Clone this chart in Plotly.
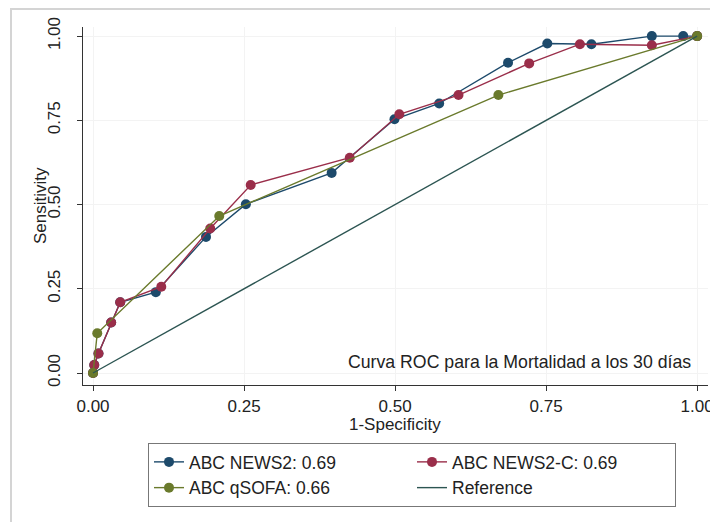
import plotly.graph_objects as go

# ---- data ----
news2_x = [0.0, 0.002, 0.009, 0.030, 0.045, 0.104, 0.187, 0.253, 0.395, 0.499, 0.573, 0.687, 0.752, 0.825, 0.925, 0.977, 1.0]
news2_y = [0.0, 0.024, 0.058, 0.150, 0.210, 0.240, 0.404, 0.501, 0.594, 0.753, 0.800, 0.921, 0.978, 0.976, 1.000, 1.000, 1.0]

news2c_x = [0.0, 0.002, 0.009, 0.030, 0.045, 0.113, 0.194, 0.261, 0.425, 0.507, 0.605, 0.722, 0.806, 0.925, 1.0]
news2c_y = [0.0, 0.024, 0.058, 0.150, 0.210, 0.256, 0.429, 0.558, 0.639, 0.768, 0.825, 0.919, 0.976, 0.973, 1.0]

qsofa_x = [0.0, 0.007, 0.209, 0.671, 1.0]
qsofa_y = [0.0, 0.118, 0.466, 0.825, 1.0]

ref_x = [0.0, 1.0]
ref_y = [0.0, 1.0]

names = ["ABC NEWS2: 0.69", "ABC NEWS2-C: 0.69", "ABC qSOFA: 0.66", "Reference"]
tick_vals = [0.0, 0.25, 0.5, 0.75, 1.0]
tick_text = ["0.00", "0.25", "0.50", "0.75", "1.00"]
note = "Curva ROC para la Mortalidad a los 30 días"
x_title = "1-Specificity"
y_title = "Sensitivity"

C_BLUE = "#1d4a6b"
C_RED = "#9a2e4a"
C_GREEN = "#6a7a2c"
C_REF = "#2c5552"
FONT = "Liberation Sans, Arial, sans-serif"

# The page body adds an 8 px offset; figure is sized/margined to compensate.
W, H = 710, 514
L, R, T, B = 75, 10, 19, 137
PW, PH = W - L - R, H - T - B

fig = go.Figure()
fig.add_trace(go.Scatter(x=news2_x, y=news2_y, mode="lines+markers", name=names[0],
                         line=dict(color=C_BLUE, width=1.4), marker=dict(color=C_BLUE, size=10)))
fig.add_trace(go.Scatter(x=news2c_x, y=news2c_y, mode="lines+markers", name=names[1],
                         line=dict(color=C_RED, width=1.4), marker=dict(color=C_RED, size=10)))
fig.add_trace(go.Scatter(x=qsofa_x, y=qsofa_y, mode="lines+markers", name=names[2],
                         line=dict(color=C_GREEN, width=1.4), marker=dict(color=C_GREEN, size=10)))
fig.add_trace(go.Scatter(x=ref_x, y=ref_y, mode="lines", name=names[3],
                         line=dict(color=C_REF, width=1.4)))

fig.add_annotation(x=0.993, y=0.033, xref="x", yref="y", text=note, showarrow=False,
                   xanchor="right", yanchor="middle", font=dict(size=17.7, color="#222", family=FONT))
fig.add_annotation(x=0.5, y=-(416 - (T + PH)) / PH, xref="x", yref="paper", text=x_title,
                   showarrow=False, xanchor="center", yanchor="middle",
                   font=dict(size=17, color="#222", family=FONT))
fig.add_annotation(x=(32 - L) / PW, y=0.5, xref="paper", yref="paper", text=y_title,
                   showarrow=False, xanchor="center", yanchor="middle", textangle=-90,
                   font=dict(size=17, color="#222", family=FONT))

# outer frame
fig.add_shape(type="rect", xref="paper", yref="paper",
              x0=(3 - L) / PW, x1=1.2, y0=-0.6, y1=1 + (T - 1) / PH,
              line=dict(color="#d4d4d4", width=2), fillcolor="rgba(0,0,0,0)", layer="below")

axis_common = dict(
    tickvals=tick_vals, ticktext=tick_text, ticks="outside", ticklen=5, tickwidth=1,
    tickcolor="#333", showline=True, linecolor="#333", linewidth=1.2,
    showgrid=True, gridcolor="#f3f3f3", gridwidth=1, zeroline=False,
    tickfont=dict(size=17, color="#222", family=FONT), mirror=False, automargin=False,
)

fig.update_layout(
    width=W, height=H,
    margin=dict(l=L, r=R, t=T, b=B),
    paper_bgcolor="white", plot_bgcolor="white",
    font=dict(family=FONT, size=17, color="#222"),
    xaxis=dict(range=[-0.0166, 1.018], ticklabelstandoff=0, **axis_common),
    yaxis=dict(range=[-0.0356, 1.027], tickangle=-90, ticklabelstandoff=10, **axis_common),
    legend=dict(orientation="h", xref="container", yref="container",
                x=140 / W, y=(H - 435) / H, xanchor="left", yanchor="top",
                entrywidth=218, entrywidthmode="pixels",
                bordercolor="#777", borderwidth=1, bgcolor="white",
                font=dict(size=17.5, color="#222", family=FONT), tracegroupgap=0),
    showlegend=True,
)

fig.write_html("out.html")
